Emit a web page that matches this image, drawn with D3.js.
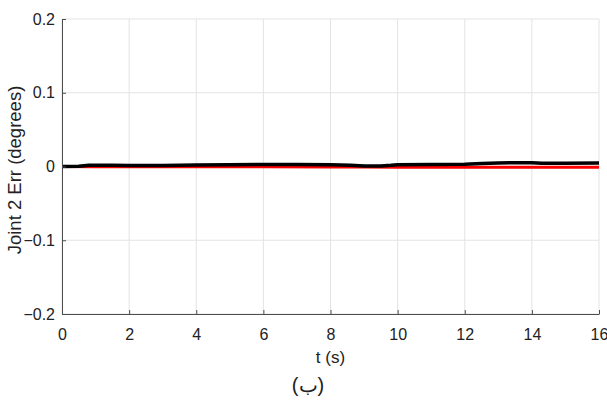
<!DOCTYPE html>
<html>
<head>
<meta charset="utf-8">
<script src="https://cdn.jsdelivr.net/npm/d3@7"></script>
<style>
  body { margin: 0; background: #fff; }
  svg { display: block; font-family: "Liberation Sans", Arial, sans-serif; }
</style>
</head>
<body>
<div id="chart"></div>
<script>
var w = 607, h = 405;

// data (time in s, error in degrees)
var timeBlack = [0, 0.5, 0.8, 1.5, 2, 3, 4, 5, 6, 7, 8, 8.6, 9, 9.5, 9.8, 10, 11, 12, 12.5, 13, 14, 14.3, 15, 16];
var errBlack  = [0, 0.0002, 0.0018, 0.0018, 0.0012, 0.0015, 0.002, 0.0024, 0.0027, 0.0026, 0.0024, 0.0016, 0.0006, 0.0008, 0.0016, 0.0024, 0.0026, 0.003, 0.0042, 0.0048, 0.0052, 0.0044, 0.0045, 0.0048];
var timeRed = [0, 1, 2, 4, 6, 8, 9, 10, 12, 14, 16];
var errRed  = [0, -0.0005, -0.0004, -0.0004, -0.0005, -0.0006, -0.0008, -0.0009, -0.001, -0.001, -0.0011];
var xTicks = [0, 2, 4, 6, 8, 10, 12, 14, 16];
var yTicks = [-0.2, -0.1, 0, 0.1, 0.2];

var xAxisLabel = "t (s)",
    yAxisLabel = "Joint 2 Err (degrees)",
    caption = "(ب)";

var svg = d3.select("#chart").append("svg")
    .attr("width", w)
    .attr("height", h);

var margin = {top: 19, right: 8, bottom: 91, left: 62},
    width = w - margin.left - margin.right,
    height = h - margin.top - margin.bottom,
    g = svg.append("g").attr("transform", "translate(" + margin.left + "," + margin.top + ")");

var x = d3.scaleLinear().domain([0, 16]).range([0, width]);
var y = d3.scaleLinear().domain([-0.2, 0.2]).range([height, 0]);

// title of the panel above, cut off at the top edge
svg.append("text")
    .attr("x", 305).attr("y", -4)
    .attr("text-anchor", "middle")
    .style("font-size", "18px")
    .attr("fill", "#222")
    .text("(الف)");

// grid
g.append("g").selectAll("line").data(xTicks).enter().append("line")
    .attr("x1", function(d) { return x(d); })
    .attr("x2", function(d) { return x(d); })
    .attr("y1", 0).attr("y2", height)
    .attr("stroke", "#e3e3e3");
g.append("g").selectAll("line").data(yTicks).enter().append("line")
    .attr("x1", 0).attr("x2", width)
    .attr("y1", function(d) { return y(d); })
    .attr("y2", function(d) { return y(d); })
    .attr("stroke", "#e3e3e3");

// lines
var line = d3.line()
    .x(function(d) { return x(d[0]); })
    .y(function(d) { return y(d[1]); });

g.append("path")
    .datum(d3.zip(timeRed, errRed))
    .attr("fill", "none")
    .attr("stroke", "#ff0000")
    .attr("stroke-width", 3)
    .attr("stroke-linejoin", "round")
    .attr("d", line);

g.append("path")
    .datum(d3.zip(timeBlack, errBlack))
    .attr("fill", "none")
    .attr("stroke", "#000")
    .attr("stroke-width", 3.5)
    .attr("stroke-linejoin", "round")
    .attr("d", line);

// axes
var xAxis = g.append("g")
    .attr("transform", "translate(0," + height + ")")
    .call(d3.axisBottom(x).tickValues(xTicks).tickFormat(d3.format("d"))
          .tickSizeInner(-4).tickSizeOuter(0).tickPadding(15));
var yAxis = g.append("g")
    .call(d3.axisLeft(y).tickValues(yTicks).tickFormat(function(d) { return d === 0 ? "0" : d3.format(".1f")(d); })
          .tickSizeInner(-4).tickSizeOuter(0).tickPadding(7));

[xAxis, yAxis].forEach(function(a) {
  a.select(".domain").attr("stroke", "#4d4d4d");
  a.selectAll(".tick line").attr("stroke", "#4d4d4d");
  a.selectAll(".tick text")
    .attr("fill", "#222")
    .style("font-size", "16px")
    .style("font-family", "Liberation Sans, Arial, sans-serif");
});

// labels
svg.append("text")
    .attr("x", margin.left + width / 2).attr("y", 363)
    .attr("text-anchor", "middle")
    .attr("fill", "#222")
    .style("font-size", "17px")
    .text(xAxisLabel);

svg.append("text")
    .attr("transform", "translate(21," + 170 + ") rotate(-90)")
    .attr("text-anchor", "middle")
    .attr("fill", "#222")
    .style("font-size", "18.5px")
    .text(yAxisLabel);

svg.append("text")
    .attr("x", 308).attr("y", 392)
    .attr("text-anchor", "middle")
    .attr("fill", "#222")
    .style("font-size", "20px")
    .text(caption);
</script>
</body>
</html>
